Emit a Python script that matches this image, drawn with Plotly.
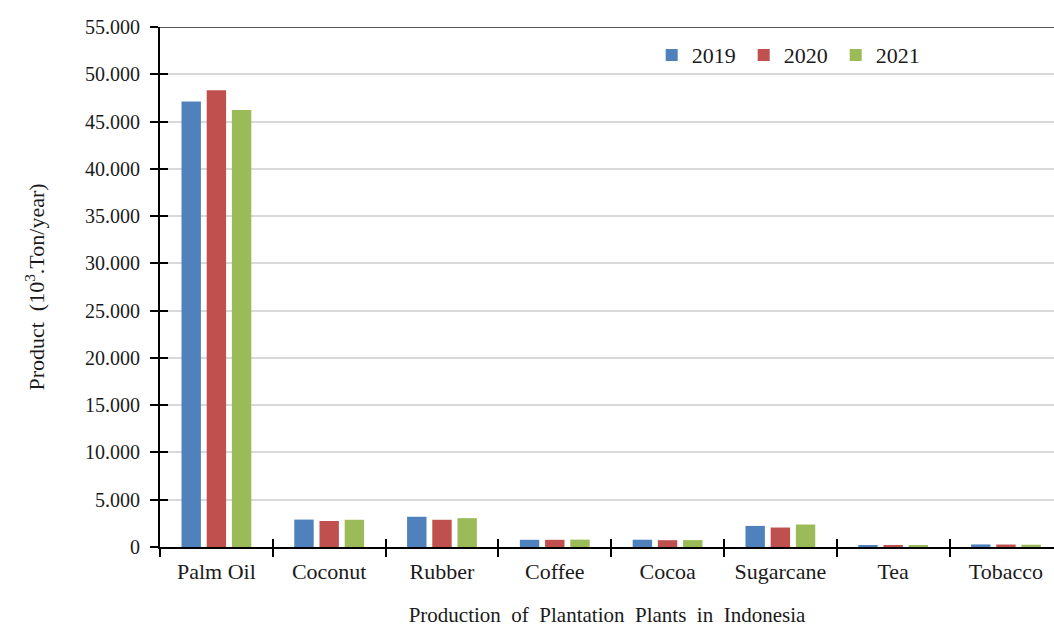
import plotly.graph_objects as go

# Plantation crop production in Indonesia, thousand tons per year
crops = ["Palm Oil", "Coconut", "Rubber", "Coffee", "Cocoa", "Sugarcane", "Tea", "Tobacco"]
years = ["2019", "2020", "2021"]
prod_2019 = [47120, 2900, 3200, 760, 770, 2230, 130, 270]
prod_2020 = [48300, 2750, 2880, 760, 720, 2060, 126, 260]
prod_2021 = [46220, 2880, 3050, 780, 730, 2380, 137, 240]
colors = ["#4F81BD", "#C0504D", "#9BBB59"]

y_ticks = list(range(0, 55001, 5000))
x_range = [-0.5, 7.426]
y_range = [0, 55000]

FONT = "Liberation Serif"
TXT = "#1a1a1a"

fig = go.Figure()
for name, vals, col in zip(years, [prod_2019, prod_2020, prod_2021], colors):
    fig.add_trace(go.Bar(name=name, x=crops, y=vals, marker=dict(color=col, line=dict(width=0))))

# helper trace that activates the overlay axes used for the inner half of the cross ticks
fig.add_trace(go.Scatter(x=[0], y=[0], xaxis="x2", yaxis="y2", mode="markers",
                         marker=dict(opacity=0), showlegend=False, hoverinfo="skip"))

fig.update_layout(
    width=1054, height=638,
    margin=dict(l=160, r=0, t=27, b=91),
    paper_bgcolor="white", plot_bgcolor="white",
    separators=",.",
    font=dict(family=FONT, size=20, color=TXT),
    barmode="group", bargap=0.33, bargroupgap=0.23,
    legend=dict(orientation="h", x=0.55, y=0.946, xanchor="left", yanchor="middle",
                font=dict(family=FONT, size=22, color=TXT), bgcolor="rgba(0,0,0,0)",
                itemwidth=30, entrywidth=47),
    xaxis=dict(type="category", categoryorder="array", categoryarray=crops, range=x_range,
               showline=True, linecolor="black", linewidth=2,
               ticks="outside", tickson="boundaries", ticklen=8, tickwidth=2, tickcolor="black",
               showgrid=False, tickfont=dict(family=FONT, size=22, color=TXT),
               ticklabelstandoff=4,
               title=dict(text="Production  of  Plantation  Plants  in  Indonesia",
                          font=dict(family=FONT, size=21, color=TXT), standoff=24)),
    yaxis=dict(range=y_range, tickvals=y_ticks, tickformat=",d",
               showline=True, linecolor="black", linewidth=2,
               ticks="outside", ticklen=8, tickwidth=2, tickcolor="black",
               showgrid=True, gridcolor="#D9D9D9", gridwidth=1.5, zeroline=False,
               tickfont=dict(family=FONT, size=20, color=TXT), ticklabelstandoff=6,
               title=dict(text="Product  (10<sup>3</sup>.Ton/year)",
                          font=dict(family=FONT, size=22, color=TXT), standoff=34)),
    xaxis2=dict(overlaying="x", range=x_range, tickvals=[0.5, 1.5, 2.5, 3.5, 4.5, 5.5, 6.5],
                ticks="inside", ticklen=8, tickwidth=2, tickcolor="black",
                showticklabels=False, showgrid=False, zeroline=False, showline=False),
    yaxis2=dict(overlaying="y", range=y_range, tickvals=y_ticks,
                ticks="inside", ticklen=8, tickwidth=2, tickcolor="black",
                showticklabels=False, showgrid=False, zeroline=False, showline=False),
    shapes=[dict(type="line", xref="paper", x0=0, x1=1, yref="y", y0=55000, y1=55000,
                 line=dict(color="#595959", width=2))],
)

fig.write_html("out.html")
